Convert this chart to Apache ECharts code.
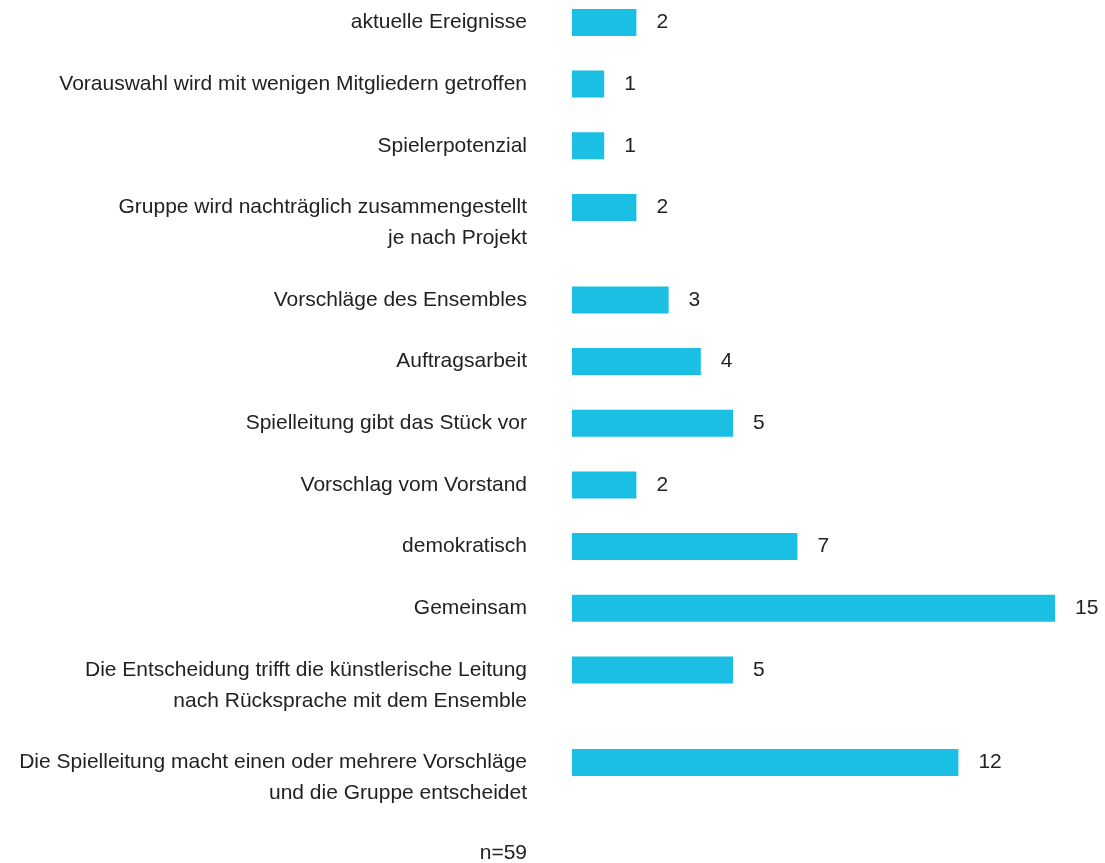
<!DOCTYPE html>
<html>
<head>
<meta charset="utf-8">
<script src="https://cdn.jsdelivr.net/npm/echarts@6/dist/echarts.min.js"></script>
<style>
  html, body { margin: 0; padding: 0; background: #ffffff; }
  #chart { width: 1105px; height: 863px; }
</style>
</head>
<body>
<div id="chart"></div>
<script>
// Categories (top to bottom) and their counts
var categories = [
  'aktuelle Ereignisse',
  'Vorauswahl wird mit wenigen Mitgliedern getroffen',
  'Spielerpotenzial',
  'Gruppe wird nachträglich zusammengestellt\nje nach Projekt',
  'Vorschläge des Ensembles',
  'Auftragsarbeit',
  'Spielleitung gibt das Stück vor',
  'Vorschlag vom Vorstand',
  'demokratisch',
  'Gemeinsam',
  'Die Entscheidung trifft die künstlerische Leitung\nnach Rücksprache mit dem Ensemble',
  'Die Spielleitung macht einen oder mehrere Vorschläge\nund die Gruppe entscheidet'
];
var values = [2, 1, 1, 2, 3, 4, 5, 2, 7, 15, 5, 12];
var sampleNote = 'n=59';
var axisMax = 15;

// Each text line takes one slot on the category axis; a row adds one extra empty slot as gap.
var axisData = [];
var seriesData = [];
var spacerCount = 0;
categories.forEach(function (c, i) {
  axisData.push(c);
  seriesData.push(values[i]);
  var lines = c.split('\n').length;
  for (var k = 0; k < lines; k++) {
    spacerCount++;
    axisData.push(' '.repeat(spacerCount));
    seriesData.push('-');
  }
});

var FONT = '"Liberation Sans", Arial, Helvetica, sans-serif';
var chart = echarts.init(document.getElementById('chart'), null, { renderer: 'canvas' });
chart.setOption({
  backgroundColor: '#ffffff',
  animation: false,
  grid: { left: 572, right: 50, top: 7, bottom: 23.5, containLabel: false },
  xAxis: {
    type: 'value',
    min: 0,
    max: axisMax,
    show: false
  },
  yAxis: {
    type: 'category',
    inverse: true,
    data: axisData,
    axisLine: { show: false },
    axisTick: { show: false },
    splitLine: { show: false },
    axisLabel: {
      interval: 0,
      margin: 45,
      fontFamily: FONT,
      fontSize: 21,
      lineHeight: 31,
      color: '#222222',
      align: 'right',
      padding: [3, 0, 0, 0],
      formatter: function (v) {
        var n = v.split('\n').length;
        return '\n'.repeat(n - 1) + v;
      }
    }
  },
  series: [{
    type: 'bar',
    data: seriesData,
    barWidth: 27,
    itemStyle: { color: '#1bbfe4' },
    label: {
      show: true,
      position: 'right',
      distance: 20,
      fontFamily: FONT,
      fontSize: 21,
      color: '#222222'
    }
  }],
  graphic: [{
    type: 'text',
    right: 578,
    top: 843,
    style: {
      text: sampleNote,
      fontFamily: FONT,
      fontSize: 21,
      fill: '#222222'
    }
  }]
});
</script>
</body>
</html>
